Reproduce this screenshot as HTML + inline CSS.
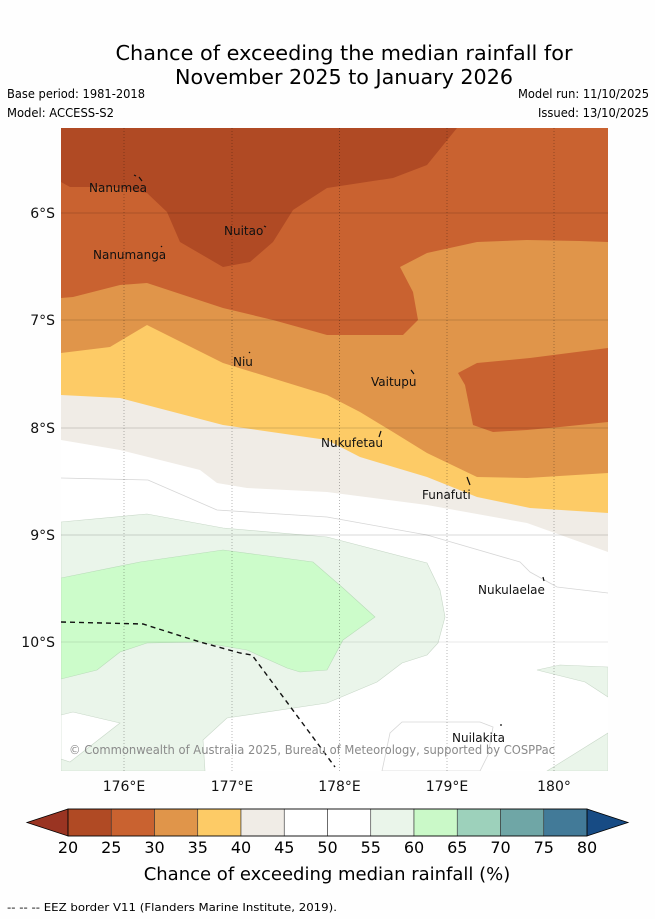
<!DOCTYPE html>
<html><head><meta charset="utf-8"><style>
html,body{margin:0;padding:0;background:#fefefe;}
svg{display:block;font-family:"DejaVu Sans","Liberation Sans",sans-serif;}
</style></head><body>
<svg id="chart" width="655" height="919" viewBox="0 0 655 919">
<rect x="0" y="0" width="655" height="919" fill="#fefefe"/>
<text x="344" y="60" font-size="20" text-anchor="middle" textLength="457" lengthAdjust="spacingAndGlyphs">Chance of exceeding the median rainfall for</text>
<text x="344" y="84" font-size="20" text-anchor="middle" textLength="338" lengthAdjust="spacingAndGlyphs">November 2025 to January 2026</text>
<text x="7" y="98" font-size="12" textLength="138" lengthAdjust="spacingAndGlyphs">Base period: 1981-2018</text>
<text x="7" y="117" font-size="12" textLength="107" lengthAdjust="spacingAndGlyphs">Model: ACCESS-S2</text>
<text x="649" y="98" font-size="12" text-anchor="end" textLength="131" lengthAdjust="spacingAndGlyphs">Model run: 11/10/2025</text>
<text x="649" y="117" font-size="12" text-anchor="end" textLength="111" lengthAdjust="spacingAndGlyphs">Issued: 13/10/2025</text>

<defs><clipPath id="mapclip"><rect x="61" y="128" width="547" height="643"/></clipPath></defs>
<g clip-path="url(#mapclip)">
<rect x="61" y="128" width="547" height="643" fill="#ffffff"/>
<polygon fill="#eaf5ea" stroke="#c8d8c8" stroke-width="0.6" points="61,522 147,514 223,528 327,537 427,563 440,590 445,617 438,643 427,655 402,663 377,682 327,703 227,718 203,740 205,771 61,771"/>
<polygon fill="#ffffff" stroke="#c8d8c8" stroke-width="0.6" points="61,715 73,712 120,723 70,762 61,759"/>
<polygon fill="#eaf5ea" stroke="#c8d8c8" stroke-width="0.6" points="537,670 560,665 608,667 608,697 585,682"/>
<polygon fill="#eaf5ea" stroke="#c8d8c8" stroke-width="0.6" points="547,771 608,733 608,771"/>
<polygon fill="#ccfcca" stroke="#b8dcb8" stroke-width="0.6" points="61,578 140,562 223,550 313,562 343,588 375,617 343,640 327,670 300,672 287,668 247,650 200,642 147,643 120,652 97,670 61,679"/>
<polyline fill="none" stroke="#d6d6d6" stroke-width="0.8" points="61,478 148,480 217,510 327,517 427,535 520,562 530,572 557,587 608,593"/>
<polygon fill="none" stroke="#d6d6d6" stroke-width="0.8" points="382,771 390,733 402,722 480,722 493,727 488,755 480,771"/>
<polygon fill="#f0ece6" points="61,128 608,128 608,552 527,523 427,505 327,492 247,488 217,483 200,470 120,450 61,440"/>
<polygon fill="#fdcb66" points="61,128 608,128 608,513 530,508 477,497 427,477 360,457 327,440 223,425 120,398 61,395"/>
<polygon fill="#e0954a" points="61,128 608,128 608,473 527,478 477,477 427,453 393,432 360,412 327,395 223,363 147,325 110,347 61,353"/>
<polygon fill="#c96230" points="61,128 608,128 608,242 580,241 527,240 477,242 427,253 400,267 413,292 418,320 403,335 327,335 273,320 223,308 147,283 120,285 73,297 61,298"/>
<polygon fill="#c96230" points="608,348 530,358 477,363 458,373 465,385 473,425 493,432 527,430 560,427 608,422"/>
<polygon fill="#b04a24" points="61,128 457,128 427,165 393,178 327,188 293,210 273,242 250,262 223,267 180,242 167,212 147,193 113,187 70,187 61,182"/>
<g stroke="rgba(0,0,0,0.35)" stroke-width="0.8">
<line x1="124" y1="128" x2="124" y2="771" stroke-dasharray="1,2"/>
<line x1="232" y1="128" x2="232" y2="771" stroke-dasharray="1,2"/>
<line x1="339.5" y1="128" x2="339.5" y2="771" stroke-dasharray="1,2"/>
<line x1="447" y1="128" x2="447" y2="771" stroke-dasharray="1,2"/>
<line x1="554" y1="128" x2="554" y2="771" stroke-dasharray="1,2"/>
<line x1="61" y1="213" x2="608" y2="213" stroke="rgba(0,0,0,0.2)"/>
<line x1="61" y1="320" x2="608" y2="320" stroke="rgba(0,0,0,0.2)"/>
<line x1="61" y1="428" x2="608" y2="428" stroke="rgba(0,0,0,0.2)"/>
<line x1="61" y1="535" x2="608" y2="535" stroke="rgba(0,0,0,0.2)"/>
<line x1="61" y1="642" x2="608" y2="642" stroke="rgba(0,0,0,0.12)"/>
</g>
<polyline fill="none" stroke="#111" stroke-width="1.4" stroke-dasharray="5,4" points="61,622 143,624 200,642 240,653 252,655 335,767"/>
<g stroke="#111" stroke-width="1.2">
<line x1="134" y1="175" x2="136" y2="176"/><line x1="139" y1="177" x2="142" y2="181"/>
<line x1="264" y1="226" x2="266" y2="227"/><line x1="161" y1="246" x2="162" y2="247"/>
<line x1="249" y1="352" x2="250" y2="353"/><line x1="411" y1="370" x2="414" y2="374"/>
<line x1="381" y1="431" x2="379" y2="437"/><line x1="467" y1="477" x2="470" y2="485"/>
<line x1="543" y1="577" x2="544" y2="581"/><line x1="500" y1="725" x2="502" y2="725"/>
</g>
<g font-size="12" fill="#111">
<text x="89" y="192">Nanumea</text>
<text x="224" y="235">Nuitao</text>
<text x="93" y="259">Nanumanga</text>
<text x="233" y="366">Niu</text>
<text x="371" y="386">Vaitupu</text>
<text x="321" y="447">Nukufetau</text>
<text x="422" y="499">Funafuti</text>
<text x="478" y="594">Nukulaelae</text>
<text x="452" y="742">Nuilakita</text>
</g>
<text x="69" y="754" font-size="12" fill="#8a8a8a" textLength="486" lengthAdjust="spacingAndGlyphs">© Commonwealth of Australia 2025, Bureau of Meteorology, supported by COSPPac</text>
</g>
<g font-size="14" fill="#111">
<text x="55" y="218" text-anchor="end">6°S</text>
<text x="55" y="325" text-anchor="end">7°S</text>
<text x="55" y="433" text-anchor="end">8°S</text>
<text x="55" y="540" text-anchor="end">9°S</text>
<text x="55" y="647" text-anchor="end">10°S</text>
<text x="124" y="791" text-anchor="middle">176°E</text>
<text x="232" y="791" text-anchor="middle">177°E</text>
<text x="339.5" y="791" text-anchor="middle">178°E</text>
<text x="447" y="791" text-anchor="middle">179°E</text>
<text x="554" y="791" text-anchor="middle">180°</text>
</g>
<g id="colorbar"></g>
<text x="327" y="880" font-size="18" text-anchor="middle">Chance of exceeding median rainfall (%)</text>
<text x="7" y="911" font-size="11" textLength="330" lengthAdjust="spacingAndGlyphs">--  --  -- EEZ border V11 (Flanders Marine Institute, 2019).</text>
</svg>
<script>
const levels = [20,25,30,35,40,45,50,55,60,65,70,75,80];
const bandColors = ["#b04a24","#c96230","#e0954a","#fdcb66","#f0ece6","#ffffff","#ffffff","#eaf5ea","#caf9c8","#9dd1bb","#6fa6a6","#427a98"];
const NS = "http://www.w3.org/2000/svg";
const cb = document.getElementById("colorbar");
const x0 = 68, x1 = 587, y0 = 809, y1 = 836;
function cx(v){ return x0 + (v - levels[0]) / (levels[levels.length-1] - levels[0]) * (x1 - x0); }
const lo = document.createElementNS(NS,"polygon");
lo.setAttribute("points", `${x0},${y0} 27,${(y0+y1)/2} ${x0},${y1}`);
lo.setAttribute("fill","#9a3422"); lo.setAttribute("stroke","#000"); lo.setAttribute("stroke-width","0.8");


cb.appendChild(lo);
const hi = document.createElementNS(NS,"polygon");
hi.setAttribute("points", `${x1},${y0} 628,${(y0+y1)/2} ${x1},${y1}`);
hi.setAttribute("fill","#174b84"); hi.setAttribute("stroke","#000"); hi.setAttribute("stroke-width","0.8");


cb.appendChild(hi);
for (let i = 0; i < bandColors.length; i++) {
  const r = document.createElementNS(NS,"rect");
  r.setAttribute("x", cx(levels[i])); r.setAttribute("y", y0);
  r.setAttribute("width", cx(levels[i+1]) - cx(levels[i])); r.setAttribute("height", y1 - y0);
  r.setAttribute("fill", bandColors[i]); r.setAttribute("stroke", "#333"); r.setAttribute("stroke-width", "0.6");
  
  
  cb.appendChild(r);
}
const frame = document.createElementNS(NS,"rect");
frame.setAttribute("x", x0); frame.setAttribute("y", y0);
frame.setAttribute("width", x1 - x0); frame.setAttribute("height", y1 - y0);
frame.setAttribute("fill","none"); frame.setAttribute("stroke","#000"); frame.setAttribute("stroke-width","0.8");


cb.appendChild(frame);
levels.forEach(v => {
  const t = document.createElementNS(NS,"text");
  t.setAttribute("x", cx(v)); t.setAttribute("y", 853);
  t.setAttribute("font-size","16"); t.setAttribute("text-anchor","middle");
  t.textContent = v;
  
  
  cb.appendChild(t);
});
</script>
</body></html>
